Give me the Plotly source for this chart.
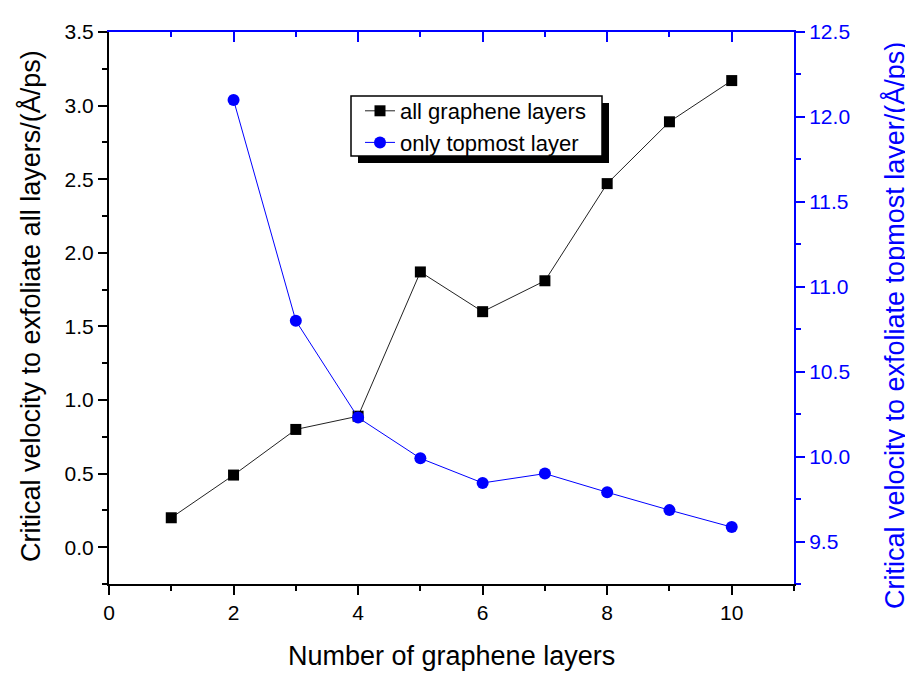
import plotly.graph_objects as go

layers = [1, 2, 3, 4, 5, 6, 7, 8, 9, 10]
v_all = [0.20, 0.49, 0.80, 0.89, 1.87, 1.60, 1.81, 2.47, 2.89, 3.17]
layers_top = [2, 3, 4, 5, 6, 7, 8, 9, 10]
v_top = [12.10, 10.80, 10.23, 9.99, 9.845, 9.90, 9.79, 9.685, 9.585]

FONT = "Liberation Sans, Arial, sans-serif"
BLUE = "#0000ff"

fig = go.Figure()
fig.add_trace(go.Scatter(
    x=layers, y=v_all, mode="lines+markers", name="all graphene layers",
    line=dict(color="#222222", width=1),
    marker=dict(symbol="square", size=11, color="black"),
    xaxis="x", yaxis="y"))
fig.add_trace(go.Scatter(
    x=layers_top, y=v_top, mode="lines+markers", name="only topmost layer",
    line=dict(color=BLUE, width=1),
    marker=dict(symbol="circle", size=12, color=BLUE),
    xaxis="x", yaxis="y2"))
# invisible trace to activate the top axis
fig.add_trace(go.Scatter(x=[0, 11], y=[None, None], xaxis="x2", yaxis="y",
                         showlegend=False, hoverinfo="skip"))

# page has an 8px body margin
OX, OY = 8, 8
W, H = 913 - OX, 673 - OY
PL, PR, PT, PB = 109, 794, 32, 584   # plot area in page pixels
L, R, T, B = PL - OX, W - (PR - OX), PT - OY, H - (PB - OY)
pw, ph = W - L - R, H - T - B

def px(x):
    return (x - OX - L) / pw

def py(y):
    return (H - B - (y - OY)) / ph

fig.update_layout(
    width=W, height=H,
    margin=dict(l=L, r=R, t=T, b=B),
    paper_bgcolor="white", plot_bgcolor="white",
    font=dict(family=FONT, size=21, color="black"),
    showlegend=True,
    legend=dict(x=px(360), y=py(90), xanchor="left", yanchor="top",
                bgcolor="rgba(0,0,0,0)", borderwidth=0,
                font=dict(size=22, family=FONT, color="black"),
                tracegroupgap=0, itemwidth=30),
    xaxis=dict(range=[0, 11], dtick=2, tick0=0, ticks="outside", ticklen=9,
               tickwidth=2, tickcolor="black", showline=True, linewidth=2,
               linecolor="black", showgrid=False, zeroline=False,
               minor=dict(dtick=1, ticks="outside", ticklen=5, tickwidth=2,
                          tickcolor="black", showgrid=False),
               tickfont=dict(size=21, color="black")),
    xaxis2=dict(range=[0, 11], overlaying="x", side="top", anchor="y",
                dtick=2, tick0=0, ticks="inside", ticklen=10, tickwidth=2,
                tickcolor=BLUE, showline=True, linewidth=2, linecolor=BLUE,
                showticklabels=False, showgrid=False, zeroline=False,
                minor=dict(dtick=1, ticks="inside", ticklen=5, tickwidth=2,
                           tickcolor=BLUE, showgrid=False)),
    yaxis=dict(range=[-0.25, 3.5], dtick=0.5, tick0=0, tickformat=".1f",
               ticks="outside", ticklen=9, tickwidth=2, tickcolor="black",
               showline=True, linewidth=2, linecolor="black",
               showgrid=False, zeroline=False,
               minor=dict(dtick=0.25, ticks="outside", ticklen=5, tickwidth=2,
                          tickcolor="black", showgrid=False),
               tickfont=dict(size=21, color="black")),
    yaxis2=dict(range=[9.25, 12.5], dtick=0.5, tick0=9.5, tickformat=".1f",
                overlaying="y", side="right", anchor="x",
                ticks="outside", ticklen=9, tickwidth=2, tickcolor=BLUE,
                showline=True, linewidth=2, linecolor=BLUE,
                showgrid=False, zeroline=False,
                minor=dict(dtick=0.25, ticks="outside", ticklen=5, tickwidth=2,
                           tickcolor=BLUE, showgrid=False),
                tickfont=dict(size=21, color=BLUE)),
    shapes=[
        dict(type="rect", xref="paper", yref="paper",
             x0=px(358), x1=px(609), y0=py(163), y1=py(103),
             fillcolor="black", line=dict(width=0), layer="above"),
        dict(type="rect", xref="paper", yref="paper",
             x0=px(351), x1=px(602), y0=py(156), y1=py(96),
             fillcolor="white", line=dict(width=1.5, color="black"),
             layer="above"),
    ],
    annotations=[
        dict(text="Number of graphene layers", xref="paper", yref="paper",
             x=0.5, y=py(656), xanchor="center", yanchor="middle",
             showarrow=False, font=dict(size=27, color="black", family=FONT)),
        dict(text="Critical velocity to exfoliate all layers/(Å/ps)",
             xref="paper", yref="paper", x=px(30), y=py(306),
             xanchor="center", yanchor="middle", textangle=-90,
             showarrow=False, font=dict(size=27, color="black", family=FONT)),
        dict(text="Critical velocity to exfoliate topmost layer/(Å/ps)",
             xref="paper", yref="paper", x=px(895), y=py(326),
             xanchor="center", yanchor="middle", textangle=-90,
             showarrow=False, font=dict(size=27, color=BLUE, family=FONT)),
    ],
)

fig.write_html("out.html")
